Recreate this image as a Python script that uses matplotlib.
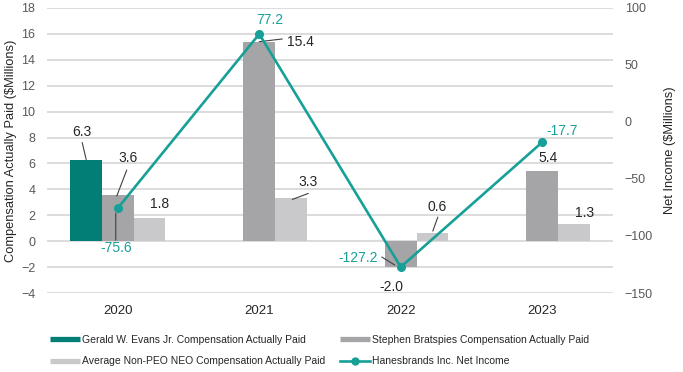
import numpy as np
import matplotlib
matplotlib.use("Agg")
import matplotlib.pyplot as plt
from matplotlib.transforms import offset_copy
from matplotlib.lines import Line2D

plt.rcParams['font.family'] = ['Liberation Sans', 'DejaVu Sans']

years = ["2020", "2021", "2022", "2023"]
evans = [6.3, np.nan, np.nan, np.nan]
bratspies = [3.6, 15.4, -2.0, 5.4]
non_peo = [1.8, 3.3, 0.6, 1.3]
net_income = [-75.6, 77.2, -127.2, -17.7]

series_names = ["Gerald W. Evans Jr. Compensation Actually Paid",
                "Stephen Bratspies Compensation Actually Paid",
                "Average Non-PEO NEO Compensation Actually Paid",
                "Hanesbrands Inc. Net Income"]

C_EVANS = "#037E77"
C_BRAT = "#A5A5A7"
C_NONPEO = "#C9C9CB"
C_LINE = "#17A097"
C_TICK = "#595959"
C_LABEL = "#262626"
C_GRID = "#D9D9D9"

W, H = 683, 372
fig = plt.figure(figsize=(W / 100, H / 100), dpi=100)
ax = fig.add_axes([47 / W, 1 - 293 / H, (613 - 47) / W, (293 - 8) / H])
ax2 = ax.twinx()

x = np.arange(len(years)).astype(float)
bw = 0.223
x_evans = x - bw
x_brat = x
x_nonpeo = x + bw

ax.bar(x_evans, evans, bw, color=C_EVANS, zorder=2)
ax.bar(x_brat, bratspies, bw, color=C_BRAT, zorder=2)
ax.bar(x_nonpeo, non_peo, bw, color=C_NONPEO, zorder=2)

ax.set_xlim(-0.5, len(years) - 0.5)
ax.set_ylim(-4, 18)
ax.set_yticks(np.arange(-4, 19, 2))
ax.grid(axis='y', color=C_GRID, lw=1.3, zorder=0)
ax.set_axisbelow(True)
ax.set_xticks(x)
ax.set_xticklabels(years)

ax2.plot(x, net_income, color=C_LINE, lw=1.9, marker='o', ms=5.5, zorder=5)
ax2.set_ylim(-150, 100)
ax2.set_yticks(np.arange(-150, 101, 50))

for a in (ax, ax2):
    for s in a.spines.values():
        s.set_visible(False)
ax.tick_params(axis='both', length=0, labelsize=9, labelcolor=C_TICK, pad=8.5)
ax.tick_params(axis='x', labelsize=9.5, labelcolor=C_LABEL, pad=9)
ax2.tick_params(axis='y', length=0, labelsize=9, labelcolor=C_TICK, pad=8.5)

ax.set_ylabel("Compensation Actually Paid ($Millions)", fontsize=9.3, color=C_LABEL, labelpad=3)
ax2.set_ylabel("Net Income ($Millions)", fontsize=9.3, color=C_LABEL, labelpad=8)
ax2.set_zorder(ax.get_zorder() + 1)
ax2.patch.set_visible(False)


def label(a, xv, yv, text, dx, dy, color=C_LABEL, leader=None):
    t = offset_copy(a.transData, fig=fig, x=dx, y=dy, units='dots')
    a.text(xv, yv, text, transform=t, ha='center', va='center',
           fontsize=10, color=color, zorder=6)
    if leader is not None:
        x1, y1, x2, y2 = leader
        t1 = offset_copy(a.transData, fig=fig, x=x1, y=y1, units='dots')
        t2 = offset_copy(a.transData, fig=fig, x=x2, y=y2, units='dots')
        a.annotate('', xy=(xv, yv), xycoords=t1, xytext=(xv, yv), textcoords=t2,
                   arrowprops=dict(arrowstyle='-', shrinkA=0, shrinkB=0,
                                   color="#404040", lw=0.8), zorder=6)


# bar labels
label(ax, x_evans[0], evans[0], f"{evans[0]:.1f}", -4, 27.5, leader=(0, 0, -4, 17))
label(ax, x_brat[0], bratspies[0], f"{bratspies[0]:.1f}", 10, 37, leader=(-1, -1.5, 9, 24.5))
label(ax, x_nonpeo[0], non_peo[0], f"{non_peo[0]:.1f}", 10, 14)
label(ax, x_brat[1], bratspies[1], f"{bratspies[1]:.1f}", 41, 0, leader=(0, 0, 23, 2.7))
label(ax, x_nonpeo[1], non_peo[1], f"{non_peo[1]:.1f}", 17.5, 16, leader=(1.5, -1, 17.5, 5))
label(ax, x_brat[2], bratspies[2], f"{bratspies[2]:.1f}", -9, -20)
label(ax, x_nonpeo[2], non_peo[2], f"{non_peo[2]:.1f}", 4.5, 26, leader=(0.5, 2.3, 5.5, 16.3))
label(ax, x_brat[3], bratspies[3], f"{bratspies[3]:.1f}", 5.5, 13)
label(ax, x_nonpeo[3], non_peo[3], f"{non_peo[3]:.1f}", 11, 11)

# net income labels
ni_off = [(-2, -40), (11, 14), (-43, 9), (20, 11)]
ni_lead = [(-2, -5, -2, -32), None, (-19, 10, -6, 2), None]
for i, v in enumerate(net_income):
    label(ax2, x[i], v, f"{v:.1f}", ni_off[i][0], ni_off[i][1], color=C_LINE, leader=ni_lead[i])

handles = [
    Line2D([], [], color=C_EVANS, lw=3.8, solid_capstyle='butt'),
    Line2D([], [], color=C_NONPEO, lw=3.8, solid_capstyle='butt'),
    Line2D([], [], color=C_BRAT, lw=3.8, solid_capstyle='butt'),
    Line2D([], [], color=C_LINE, lw=1.9, marker='o', ms=5),
]
labels = [series_names[0], series_names[2], series_names[1], series_names[3]]
fig.legend(handles, labels, loc='upper left', bbox_to_anchor=(50 / W, 1 - 335 / H),
           ncol=2, frameon=False, fontsize=7.5, handlelength=2.9, handletextpad=0.2,
           columnspacing=1.4, labelspacing=1.1, borderpad=0, borderaxespad=0,
           labelcolor=C_LABEL)

fig.savefig("out.png", dpi=100)
